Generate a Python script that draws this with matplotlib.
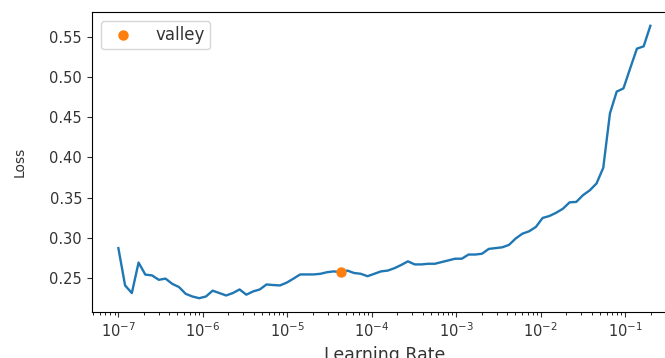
import matplotlib
matplotlib.use("Agg")
import matplotlib.pyplot as plt

# learning rates tried by the finder (log-spaced)
lrs = [
    1.000e-7, 1.201e-7, 1.443e-7, 1.734e-7, 2.084e-7, 2.503e-7, 3.008e-7, 3.613e-7,
    4.341e-7, 5.216e-7, 6.266e-7, 7.528e-7, 9.045e-7, 1.087e-6, 1.306e-6, 1.569e-6,
    1.884e-6, 2.264e-6, 2.720e-6, 3.268e-6, 3.926e-6, 4.717e-6, 5.667e-6, 6.809e-6,
    8.181e-6, 9.829e-6, 1.181e-5, 1.419e-5, 1.705e-5, 2.048e-5, 2.460e-5, 2.956e-5,
    3.551e-5, 4.267e-5, 5.126e-5, 6.159e-5, 7.399e-5, 8.890e-5, 1.068e-4, 1.283e-4,
    1.542e-4, 1.852e-4, 2.225e-4, 2.674e-4, 3.212e-4, 3.859e-4, 4.636e-4, 5.570e-4,
    6.692e-4, 8.041e-4, 9.661e-4, 1.161e-3, 1.395e-3, 1.675e-3, 2.013e-3, 2.418e-3,
    2.906e-3, 3.491e-3, 4.194e-3, 5.038e-3, 6.053e-3, 7.273e-3, 8.738e-3, 1.050e-2,
    1.261e-2, 1.515e-2, 1.821e-2, 2.188e-2, 2.629e-2, 3.157e-2, 3.793e-2, 4.557e-2,
    5.475e-2, 6.578e-2, 7.903e-2, 9.495e-2, 0.1141, 0.1371, 0.1647, 0.1978,
]

losses = [
    0.287, 0.2405, 0.231, 0.269, 0.254, 0.253, 0.2475, 0.249,
    0.2425, 0.2385, 0.230, 0.2267, 0.2246, 0.2267, 0.234, 0.231,
    0.228, 0.231, 0.2355, 0.229, 0.233, 0.2355, 0.2417, 0.241,
    0.2405, 0.244, 0.249, 0.2542, 0.2542, 0.2542, 0.255, 0.257,
    0.258, 0.257, 0.259, 0.256, 0.255, 0.252, 0.255, 0.258,
    0.259, 0.262, 0.266, 0.2705, 0.2667, 0.2667, 0.2675, 0.2675,
    0.2696, 0.2717, 0.2738, 0.2738, 0.279, 0.279, 0.280, 0.286,
    0.287, 0.288, 0.291, 0.299, 0.305, 0.308, 0.3134, 0.3246,
    0.327, 0.331, 0.336, 0.344, 0.3446, 0.353, 0.359, 0.3675,
    0.387, 0.455, 0.482, 0.486, 0.511, 0.5355, 0.5384, 0.564,
]

# suggested lr
valley_lr = [4.267e-5]
valley_loss = [0.257]

fig = plt.figure(figsize=(6.65, 3.58), dpi=100)
# axes run a bit past the right edge, like the cropped original
ax = fig.add_axes([0.138, 0.129, 0.880, 0.837])

ax.plot(lrs, losses, linewidth=1.7)
ax.plot(valley_lr, valley_loss, "o", color="C1", markersize=6.5, label="valley")
ax.set_xscale("log")
ax.tick_params(labelsize=10.5, colors="#333333", labelcolor="#333333")
ax.set_xlabel("Learning Rate", fontsize=12.5, color="#333333")
ax.set_ylabel("Loss", fontsize=10, color="#333333", labelpad=16)
leg = ax.legend(loc="upper left", fontsize=12, borderpad=0.3, handletextpad=1.0,
                borderaxespad=0.55)
for t in leg.get_texts():
    t.set_color("#333333")

fig.savefig("out.png", dpi=100)
plt.close(fig)
